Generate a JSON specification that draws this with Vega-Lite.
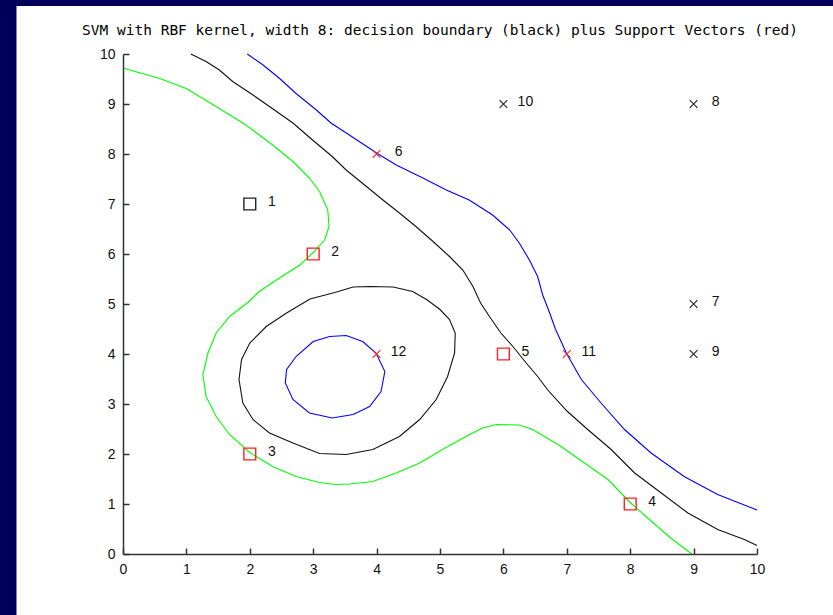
{
  "$schema": "https://vega.github.io/schema/vega-lite/v6.json",
  "width": 634,
  "height": 500,
  "autosize": "none",
  "padding": {"left": 123, "top": 54, "right": 76, "bottom": 61},
  "background": "#00005a",
  "title": {
    "text": "SVM with RBF kernel, width 8: decision boundary (black) plus Support Vectors (red)",
    "font": "DejaVu Sans Mono",
    "fontSize": 14.5,
    "fontWeight": "normal",
    "color": "#000000",
    "anchor": "middle",
    "frame": "group",
    "baseline": "alphabetic",
    "offset": -43
  },
  "encoding": {
    "x": {"field": "x", "type": "quantitative", "scale": {"domain": [0, 10], "nice": false},
      "axis": {"values": [0,1,2,3,4,5,6,7,8,9,10], "title": null, "grid": false, "tickSize": -6, "labelPadding": 14, "zindex": 2}},
    "y": {"field": "y", "type": "quantitative", "scale": {"domain": [0, 10], "nice": false},
      "axis": {"values": [0,1,2,3,4,5,6,7,8,9,10], "title": null, "grid": false, "tickSize": -6, "labelPadding": 14, "zindex": 2}}
  },
  "datasets": {
    "frame": [{"x0": -1.68, "x1": 11.3, "y0": -1.3, "y1": 10.96}],
    "curves": [
      {"curve": "margin_low", "level": "-1", "i": 1, "x": 0, "y": 9.72},
      {"curve": "margin_low", "level": "-1", "i": 2, "x": 0.58, "y": 9.51},
      {"curve": "margin_low", "level": "-1", "i": 3, "x": 1.0, "y": 9.31},
      {"curve": "margin_low", "level": "-1", "i": 4, "x": 1.52, "y": 8.91},
      {"curve": "margin_low", "level": "-1", "i": 5, "x": 1.94, "y": 8.58},
      {"curve": "margin_low", "level": "-1", "i": 6, "x": 2.36, "y": 8.18},
      {"curve": "margin_low", "level": "-1", "i": 7, "x": 2.68, "y": 7.85},
      {"curve": "margin_low", "level": "-1", "i": 8, "x": 2.94, "y": 7.52},
      {"curve": "margin_low", "level": "-1", "i": 9, "x": 3.1, "y": 7.25},
      {"curve": "margin_low", "level": "-1", "i": 10, "x": 3.23, "y": 6.88},
      {"curve": "margin_low", "level": "-1", "i": 11, "x": 3.25, "y": 6.55},
      {"curve": "margin_low", "level": "-1", "i": 12, "x": 3.18, "y": 6.28},
      {"curve": "margin_low", "level": "-1", "i": 13, "x": 3.0, "y": 6.03},
      {"curve": "margin_low", "level": "-1", "i": 14, "x": 2.79, "y": 5.78},
      {"curve": "margin_low", "level": "-1", "i": 15, "x": 2.42, "y": 5.48},
      {"curve": "margin_low", "level": "-1", "i": 16, "x": 2.15, "y": 5.25},
      {"curve": "margin_low", "level": "-1", "i": 17, "x": 1.97, "y": 5.03},
      {"curve": "margin_low", "level": "-1", "i": 18, "x": 1.68, "y": 4.75},
      {"curve": "margin_low", "level": "-1", "i": 19, "x": 1.47, "y": 4.42},
      {"curve": "margin_low", "level": "-1", "i": 20, "x": 1.34, "y": 4.02},
      {"curve": "margin_low", "level": "-1", "i": 21, "x": 1.26, "y": 3.59},
      {"curve": "margin_low", "level": "-1", "i": 22, "x": 1.31, "y": 3.15},
      {"curve": "margin_low", "level": "-1", "i": 23, "x": 1.47, "y": 2.75},
      {"curve": "margin_low", "level": "-1", "i": 24, "x": 1.68, "y": 2.39},
      {"curve": "margin_low", "level": "-1", "i": 25, "x": 2.0, "y": 2.03},
      {"curve": "margin_low", "level": "-1", "i": 26, "x": 2.36, "y": 1.75},
      {"curve": "margin_low", "level": "-1", "i": 27, "x": 2.73, "y": 1.55},
      {"curve": "margin_low", "level": "-1", "i": 28, "x": 3.1, "y": 1.43},
      {"curve": "margin_low", "level": "-1", "i": 29, "x": 3.35, "y": 1.39},
      {"curve": "margin_low", "level": "-1", "i": 30, "x": 3.57, "y": 1.4},
      {"curve": "margin_low", "level": "-1", "i": 31, "x": 3.94, "y": 1.45},
      {"curve": "margin_low", "level": "-1", "i": 32, "x": 4.31, "y": 1.62},
      {"curve": "margin_low", "level": "-1", "i": 33, "x": 4.68, "y": 1.82},
      {"curve": "margin_low", "level": "-1", "i": 34, "x": 5.04, "y": 2.09},
      {"curve": "margin_low", "level": "-1", "i": 35, "x": 5.41, "y": 2.35},
      {"curve": "margin_low", "level": "-1", "i": 36, "x": 5.67, "y": 2.52},
      {"curve": "margin_low", "level": "-1", "i": 37, "x": 5.89, "y": 2.59},
      {"curve": "margin_low", "level": "-1", "i": 38, "x": 6.25, "y": 2.58},
      {"curve": "margin_low", "level": "-1", "i": 39, "x": 6.46, "y": 2.49},
      {"curve": "margin_low", "level": "-1", "i": 40, "x": 6.65, "y": 2.35},
      {"curve": "margin_low", "level": "-1", "i": 41, "x": 6.91, "y": 2.15},
      {"curve": "margin_low", "level": "-1", "i": 42, "x": 7.28, "y": 1.82},
      {"curve": "margin_low", "level": "-1", "i": 43, "x": 7.65, "y": 1.49},
      {"curve": "margin_low", "level": "-1", "i": 44, "x": 8.0, "y": 1.03},
      {"curve": "margin_low", "level": "-1", "i": 45, "x": 8.33, "y": 0.66},
      {"curve": "margin_low", "level": "-1", "i": 46, "x": 8.64, "y": 0.32},
      {"curve": "margin_low", "level": "-1", "i": 47, "x": 8.97, "y": 0.0},

      {"curve": "boundary_outer", "level": "0", "i": 1, "x": 1.07, "y": 10},
      {"curve": "boundary_outer", "level": "0", "i": 2, "x": 1.31, "y": 9.85},
      {"curve": "boundary_outer", "level": "0", "i": 3, "x": 1.52, "y": 9.68},
      {"curve": "boundary_outer", "level": "0", "i": 4, "x": 1.73, "y": 9.45},
      {"curve": "boundary_outer", "level": "0", "i": 5, "x": 2.05, "y": 9.18},
      {"curve": "boundary_outer", "level": "0", "i": 6, "x": 2.31, "y": 8.95},
      {"curve": "boundary_outer", "level": "0", "i": 7, "x": 2.68, "y": 8.62},
      {"curve": "boundary_outer", "level": "0", "i": 8, "x": 2.99, "y": 8.28},
      {"curve": "boundary_outer", "level": "0", "i": 9, "x": 3.3, "y": 7.95},
      {"curve": "boundary_outer", "level": "0", "i": 10, "x": 3.52, "y": 7.68},
      {"curve": "boundary_outer", "level": "0", "i": 11, "x": 3.84, "y": 7.35},
      {"curve": "boundary_outer", "level": "0", "i": 12, "x": 4.1, "y": 7.08},
      {"curve": "boundary_outer", "level": "0", "i": 13, "x": 4.36, "y": 6.82},
      {"curve": "boundary_outer", "level": "0", "i": 14, "x": 4.62, "y": 6.55},
      {"curve": "boundary_outer", "level": "0", "i": 15, "x": 4.89, "y": 6.25},
      {"curve": "boundary_outer", "level": "0", "i": 16, "x": 5.15, "y": 5.95},
      {"curve": "boundary_outer", "level": "0", "i": 17, "x": 5.36, "y": 5.68},
      {"curve": "boundary_outer", "level": "0", "i": 18, "x": 5.52, "y": 5.35},
      {"curve": "boundary_outer", "level": "0", "i": 19, "x": 5.64, "y": 5.02},
      {"curve": "boundary_outer", "level": "0", "i": 20, "x": 5.78, "y": 4.75},
      {"curve": "boundary_outer", "level": "0", "i": 21, "x": 5.96, "y": 4.42},
      {"curve": "boundary_outer", "level": "0", "i": 22, "x": 6.15, "y": 4.15},
      {"curve": "boundary_outer", "level": "0", "i": 23, "x": 6.36, "y": 3.82},
      {"curve": "boundary_outer", "level": "0", "i": 24, "x": 6.54, "y": 3.55},
      {"curve": "boundary_outer", "level": "0", "i": 25, "x": 6.7, "y": 3.28},
      {"curve": "boundary_outer", "level": "0", "i": 26, "x": 7.01, "y": 2.85},
      {"curve": "boundary_outer", "level": "0", "i": 27, "x": 7.33, "y": 2.49},
      {"curve": "boundary_outer", "level": "0", "i": 28, "x": 7.7, "y": 2.09},
      {"curve": "boundary_outer", "level": "0", "i": 29, "x": 8.07, "y": 1.62},
      {"curve": "boundary_outer", "level": "0", "i": 30, "x": 8.49, "y": 1.22},
      {"curve": "boundary_outer", "level": "0", "i": 31, "x": 8.91, "y": 0.82},
      {"curve": "boundary_outer", "level": "0", "i": 32, "x": 9.38, "y": 0.49},
      {"curve": "boundary_outer", "level": "0", "i": 33, "x": 9.8, "y": 0.29},
      {"curve": "boundary_outer", "level": "0", "i": 34, "x": 10, "y": 0.17},

      {"curve": "boundary_loop", "level": "0", "i": 1, "x": 3.9, "y": 5.35},
      {"curve": "boundary_loop", "level": "0", "i": 2, "x": 4.26, "y": 5.34},
      {"curve": "boundary_loop", "level": "0", "i": 3, "x": 4.57, "y": 5.25},
      {"curve": "boundary_loop", "level": "0", "i": 4, "x": 4.8, "y": 5.08},
      {"curve": "boundary_loop", "level": "0", "i": 5, "x": 5.0, "y": 4.89},
      {"curve": "boundary_loop", "level": "0", "i": 6, "x": 5.15, "y": 4.69},
      {"curve": "boundary_loop", "level": "0", "i": 7, "x": 5.24, "y": 4.42},
      {"curve": "boundary_loop", "level": "0", "i": 8, "x": 5.23, "y": 4.02},
      {"curve": "boundary_loop", "level": "0", "i": 9, "x": 5.12, "y": 3.55},
      {"curve": "boundary_loop", "level": "0", "i": 10, "x": 4.94, "y": 3.09},
      {"curve": "boundary_loop", "level": "0", "i": 11, "x": 4.68, "y": 2.69},
      {"curve": "boundary_loop", "level": "0", "i": 12, "x": 4.36, "y": 2.35},
      {"curve": "boundary_loop", "level": "0", "i": 13, "x": 3.94, "y": 2.09},
      {"curve": "boundary_loop", "level": "0", "i": 14, "x": 3.52, "y": 1.99},
      {"curve": "boundary_loop", "level": "0", "i": 15, "x": 3.1, "y": 2.01},
      {"curve": "boundary_loop", "level": "0", "i": 16, "x": 2.68, "y": 2.22},
      {"curve": "boundary_loop", "level": "0", "i": 17, "x": 2.31, "y": 2.42},
      {"curve": "boundary_loop", "level": "0", "i": 18, "x": 2.05, "y": 2.69},
      {"curve": "boundary_loop", "level": "0", "i": 19, "x": 1.89, "y": 3.02},
      {"curve": "boundary_loop", "level": "0", "i": 20, "x": 1.83, "y": 3.49},
      {"curve": "boundary_loop", "level": "0", "i": 21, "x": 1.87, "y": 3.89},
      {"curve": "boundary_loop", "level": "0", "i": 22, "x": 2.0, "y": 4.22},
      {"curve": "boundary_loop", "level": "0", "i": 23, "x": 2.26, "y": 4.55},
      {"curve": "boundary_loop", "level": "0", "i": 24, "x": 2.58, "y": 4.82},
      {"curve": "boundary_loop", "level": "0", "i": 25, "x": 2.95, "y": 5.1},
      {"curve": "boundary_loop", "level": "0", "i": 26, "x": 3.34, "y": 5.23},
      {"curve": "boundary_loop", "level": "0", "i": 27, "x": 3.63, "y": 5.34},
      {"curve": "boundary_loop", "level": "0", "i": 28, "x": 3.9, "y": 5.35},

      {"curve": "margin_high", "level": "1", "i": 1, "x": 1.96, "y": 10},
      {"curve": "margin_high", "level": "1", "i": 2, "x": 2.21, "y": 9.78},
      {"curve": "margin_high", "level": "1", "i": 3, "x": 2.47, "y": 9.51},
      {"curve": "margin_high", "level": "1", "i": 4, "x": 2.73, "y": 9.21},
      {"curve": "margin_high", "level": "1", "i": 5, "x": 3.05, "y": 8.88},
      {"curve": "margin_high", "level": "1", "i": 6, "x": 3.28, "y": 8.62},
      {"curve": "margin_high", "level": "1", "i": 7, "x": 3.57, "y": 8.38},
      {"curve": "margin_high", "level": "1", "i": 8, "x": 4.0, "y": 8.02},
      {"curve": "margin_high", "level": "1", "i": 9, "x": 4.31, "y": 7.78},
      {"curve": "margin_high", "level": "1", "i": 10, "x": 4.73, "y": 7.52},
      {"curve": "margin_high", "level": "1", "i": 11, "x": 5.1, "y": 7.28},
      {"curve": "margin_high", "level": "1", "i": 12, "x": 5.46, "y": 7.08},
      {"curve": "margin_high", "level": "1", "i": 13, "x": 5.83, "y": 6.78},
      {"curve": "margin_high", "level": "1", "i": 14, "x": 6.1, "y": 6.48},
      {"curve": "margin_high", "level": "1", "i": 15, "x": 6.25, "y": 6.22},
      {"curve": "margin_high", "level": "1", "i": 16, "x": 6.41, "y": 5.88},
      {"curve": "margin_high", "level": "1", "i": 17, "x": 6.54, "y": 5.55},
      {"curve": "margin_high", "level": "1", "i": 18, "x": 6.62, "y": 5.18},
      {"curve": "margin_high", "level": "1", "i": 19, "x": 6.73, "y": 4.82},
      {"curve": "margin_high", "level": "1", "i": 20, "x": 6.82, "y": 4.5},
      {"curve": "margin_high", "level": "1", "i": 21, "x": 7.0, "y": 4.0},
      {"curve": "margin_high", "level": "1", "i": 22, "x": 7.23, "y": 3.49},
      {"curve": "margin_high", "level": "1", "i": 23, "x": 7.54, "y": 3.02},
      {"curve": "margin_high", "level": "1", "i": 24, "x": 7.91, "y": 2.49},
      {"curve": "margin_high", "level": "1", "i": 25, "x": 8.33, "y": 2.02},
      {"curve": "margin_high", "level": "1", "i": 26, "x": 8.85, "y": 1.55},
      {"curve": "margin_high", "level": "1", "i": 27, "x": 9.38, "y": 1.19},
      {"curve": "margin_high", "level": "1", "i": 28, "x": 10, "y": 0.88},

      {"curve": "margin_loop", "level": "1", "i": 1, "x": 3.26, "y": 4.35},
      {"curve": "margin_loop", "level": "1", "i": 2, "x": 3.52, "y": 4.37},
      {"curve": "margin_loop", "level": "1", "i": 3, "x": 3.78, "y": 4.25},
      {"curve": "margin_loop", "level": "1", "i": 4, "x": 3.99, "y": 4.02},
      {"curve": "margin_loop", "level": "1", "i": 5, "x": 4.13, "y": 3.65},
      {"curve": "margin_loop", "level": "1", "i": 6, "x": 4.07, "y": 3.25},
      {"curve": "margin_loop", "level": "1", "i": 7, "x": 3.89, "y": 2.95},
      {"curve": "margin_loop", "level": "1", "i": 8, "x": 3.63, "y": 2.79},
      {"curve": "margin_loop", "level": "1", "i": 9, "x": 3.3, "y": 2.72},
      {"curve": "margin_loop", "level": "1", "i": 10, "x": 2.94, "y": 2.82},
      {"curve": "margin_loop", "level": "1", "i": 11, "x": 2.68, "y": 3.09},
      {"curve": "margin_loop", "level": "1", "i": 12, "x": 2.56, "y": 3.42},
      {"curve": "margin_loop", "level": "1", "i": 13, "x": 2.58, "y": 3.69},
      {"curve": "margin_loop", "level": "1", "i": 14, "x": 2.73, "y": 3.95},
      {"curve": "margin_loop", "level": "1", "i": 15, "x": 3.0, "y": 4.25},
      {"curve": "margin_loop", "level": "1", "i": 16, "x": 3.26, "y": 4.35}
    ],
    "points": [
      {"id": 1, "x": 2, "y": 7, "cls": "square", "sv": "no"},
      {"id": 2, "x": 3, "y": 6, "cls": "square", "sv": "yes"},
      {"id": 3, "x": 2, "y": 2, "cls": "square", "sv": "yes"},
      {"id": 4, "x": 8, "y": 1, "cls": "square", "sv": "yes"},
      {"id": 5, "x": 6, "y": 4, "cls": "square", "sv": "yes"},
      {"id": 6, "x": 4, "y": 8, "cls": "cross", "sv": "yes"},
      {"id": 7, "x": 9, "y": 5, "cls": "cross", "sv": "no"},
      {"id": 8, "x": 9, "y": 9, "cls": "cross", "sv": "no"},
      {"id": 9, "x": 9, "y": 4, "cls": "cross", "sv": "no"},
      {"id": 10, "x": 6, "y": 9, "cls": "cross", "sv": "no"},
      {"id": 11, "x": 7, "y": 4, "cls": "cross", "sv": "yes"},
      {"id": 12, "x": 4, "y": 4, "cls": "cross", "sv": "yes"}
    ]
  },
  "layer": [
    {
      "data": {"name": "frame"},
      "mark": {"type": "rect", "fill": "#ffffff", "clip": false},
      "encoding": {
        "x": {"field": "x0", "type": "quantitative"},
        "x2": {"field": "x1"},
        "y": {"field": "y0", "type": "quantitative"},
        "y2": {"field": "y1"}
      }
    },
    {
      "data": {"name": "curves"},
      "mark": {"type": "line", "strokeWidth": 1.1, "clip": false},
      "encoding": {
        "detail": {"field": "curve"},
        "order": {"field": "i", "type": "quantitative"},
        "color": {"field": "level", "type": "nominal",
          "scale": {"domain": ["-1", "0", "1"], "range": ["#00ff00", "#111111", "#0000ff"]}, "legend": null}
      }
    },
    {
      "data": {"name": "points"},
      "transform": [{"filter": "datum.cls === 'square'"}],
      "mark": {"type": "point", "shape": "square", "size": 140, "strokeWidth": 1.4, "filled": false, "opacity": 1},
      "encoding": {
        "stroke": {"field": "sv", "type": "nominal", "scale": {"domain": ["yes", "no"], "range": ["#ff2020", "#222222"]}, "legend": null}
      }
    },
    {
      "data": {"name": "points"},
      "transform": [{"filter": "datum.cls === 'cross'"}],
      "mark": {"type": "point", "shape": "M-1,-1L1,1M-1,1L1,-1", "size": 60, "strokeWidth": 1.1, "filled": false, "opacity": 1},
      "encoding": {
        "stroke": {"field": "sv", "type": "nominal", "scale": {"domain": ["yes", "no"], "range": ["#ff2020", "#222222"]}, "legend": null}
      }
    },
    {
      "data": {"name": "points"},
      "mark": {"type": "text", "align": "center", "baseline": "middle", "dx": 22, "dy": -2.5, "font": "Liberation Sans", "fontSize": 14, "color": "#111111"},
      "encoding": {
        "text": {"field": "id", "type": "nominal"}
      }
    }
  ],
  "config": {
    "view": {"stroke": null},
    "axis": {
      "zindex": 2,
      "domainColor": "#333333",
      "tickColor": "#333333",
      "domainWidth": 1.5,
      "tickWidth": 1.5,
      "labelColor": "#111111",
      "labelFont": "Liberation Sans",
      "labelFontSize": 14,
      "labelFlush": false,
      "labelOverlap": false
    }
  }
}
